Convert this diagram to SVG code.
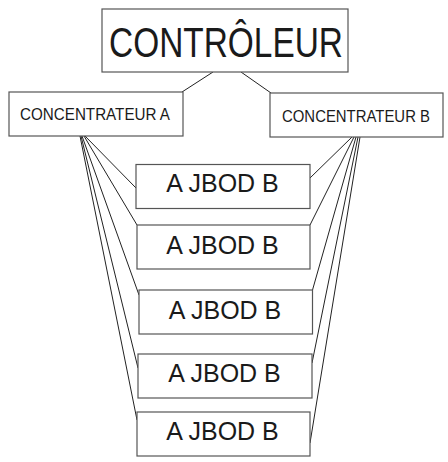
<svg xmlns="http://www.w3.org/2000/svg" width="448" height="462" viewBox="0 0 448 462">
<style>
.box{fill:#fff;stroke:#555;stroke-width:1.2}
.t{font-family:"Liberation Sans",Arial,sans-serif;fill:#1a1a1a;text-anchor:middle}
.j{font-size:25px}
.hub{font-size:16.5px}
.ln{stroke:#222;stroke-width:1;fill:none}
</style>
<rect width="448" height="462" fill="#fff"/>
<g id="connectors">
<line class="ln" x1="213" y1="72" x2="182" y2="92"/>
<line class="ln" x1="241" y1="72" x2="271" y2="93"/>
<line class="ln" x1="85" y1="136" x2="136" y2="188"/>
<line class="ln" x1="84" y1="136" x2="137" y2="225"/>
<line class="ln" x1="82" y1="136" x2="139" y2="295"/>
<line class="ln" x1="81" y1="136" x2="138" y2="368"/>
<line class="ln" x1="80" y1="136" x2="137" y2="420"/>
<line class="ln" x1="352" y1="137" x2="310" y2="178"/>
<line class="ln" x1="354" y1="137" x2="310" y2="225"/>
<line class="ln" x1="356" y1="137" x2="312.5" y2="290"/>
<line class="ln" x1="358" y1="137" x2="312" y2="363"/>
<line class="ln" x1="360" y1="137" x2="310" y2="443"/>
</g>
<g id="controleur">
<rect class="box" x="102" y="9" width="246" height="63"/>
<text class="t" x="226" y="57" font-size="42" textLength="234" lengthAdjust="spacingAndGlyphs">CONTRÔLEUR</text>
</g>
<g id="concentrateur-a">
<rect class="box" x="9" y="92" width="174" height="44"/>
<text class="t hub" x="95" y="120" textLength="150" lengthAdjust="spacingAndGlyphs">CONCENTRATEUR A</text>
</g>
<g id="concentrateur-b">
<rect class="box" x="270" y="93" width="173" height="44"/>
<text class="t hub" x="356" y="121.5" textLength="148" lengthAdjust="spacingAndGlyphs">CONCENTRATEUR B</text>
</g>
<g id="jbod1">
<rect class="box" x="136" y="164.5" width="174" height="44"/>
<text class="t j" x="222.5" y="192">A JBOD B</text>
</g>
<g id="jbod2">
<rect class="box" x="137" y="225" width="173" height="44"/>
<text class="t j" x="222.5" y="253.5">A JBOD B</text>
</g>
<g id="jbod3">
<rect class="box" x="139" y="290" width="173.5" height="44"/>
<text class="t j" x="225" y="318.5">A JBOD B</text>
</g>
<g id="jbod4">
<rect class="box" x="138" y="354" width="174" height="44"/>
<text class="t j" x="224.5" y="381.5">A JBOD B</text>
</g>
<g id="jbod5">
<rect class="box" x="137" y="412" width="173" height="44"/>
<text class="t j" x="222.5" y="440">A JBOD B</text>
</g>
</svg>
